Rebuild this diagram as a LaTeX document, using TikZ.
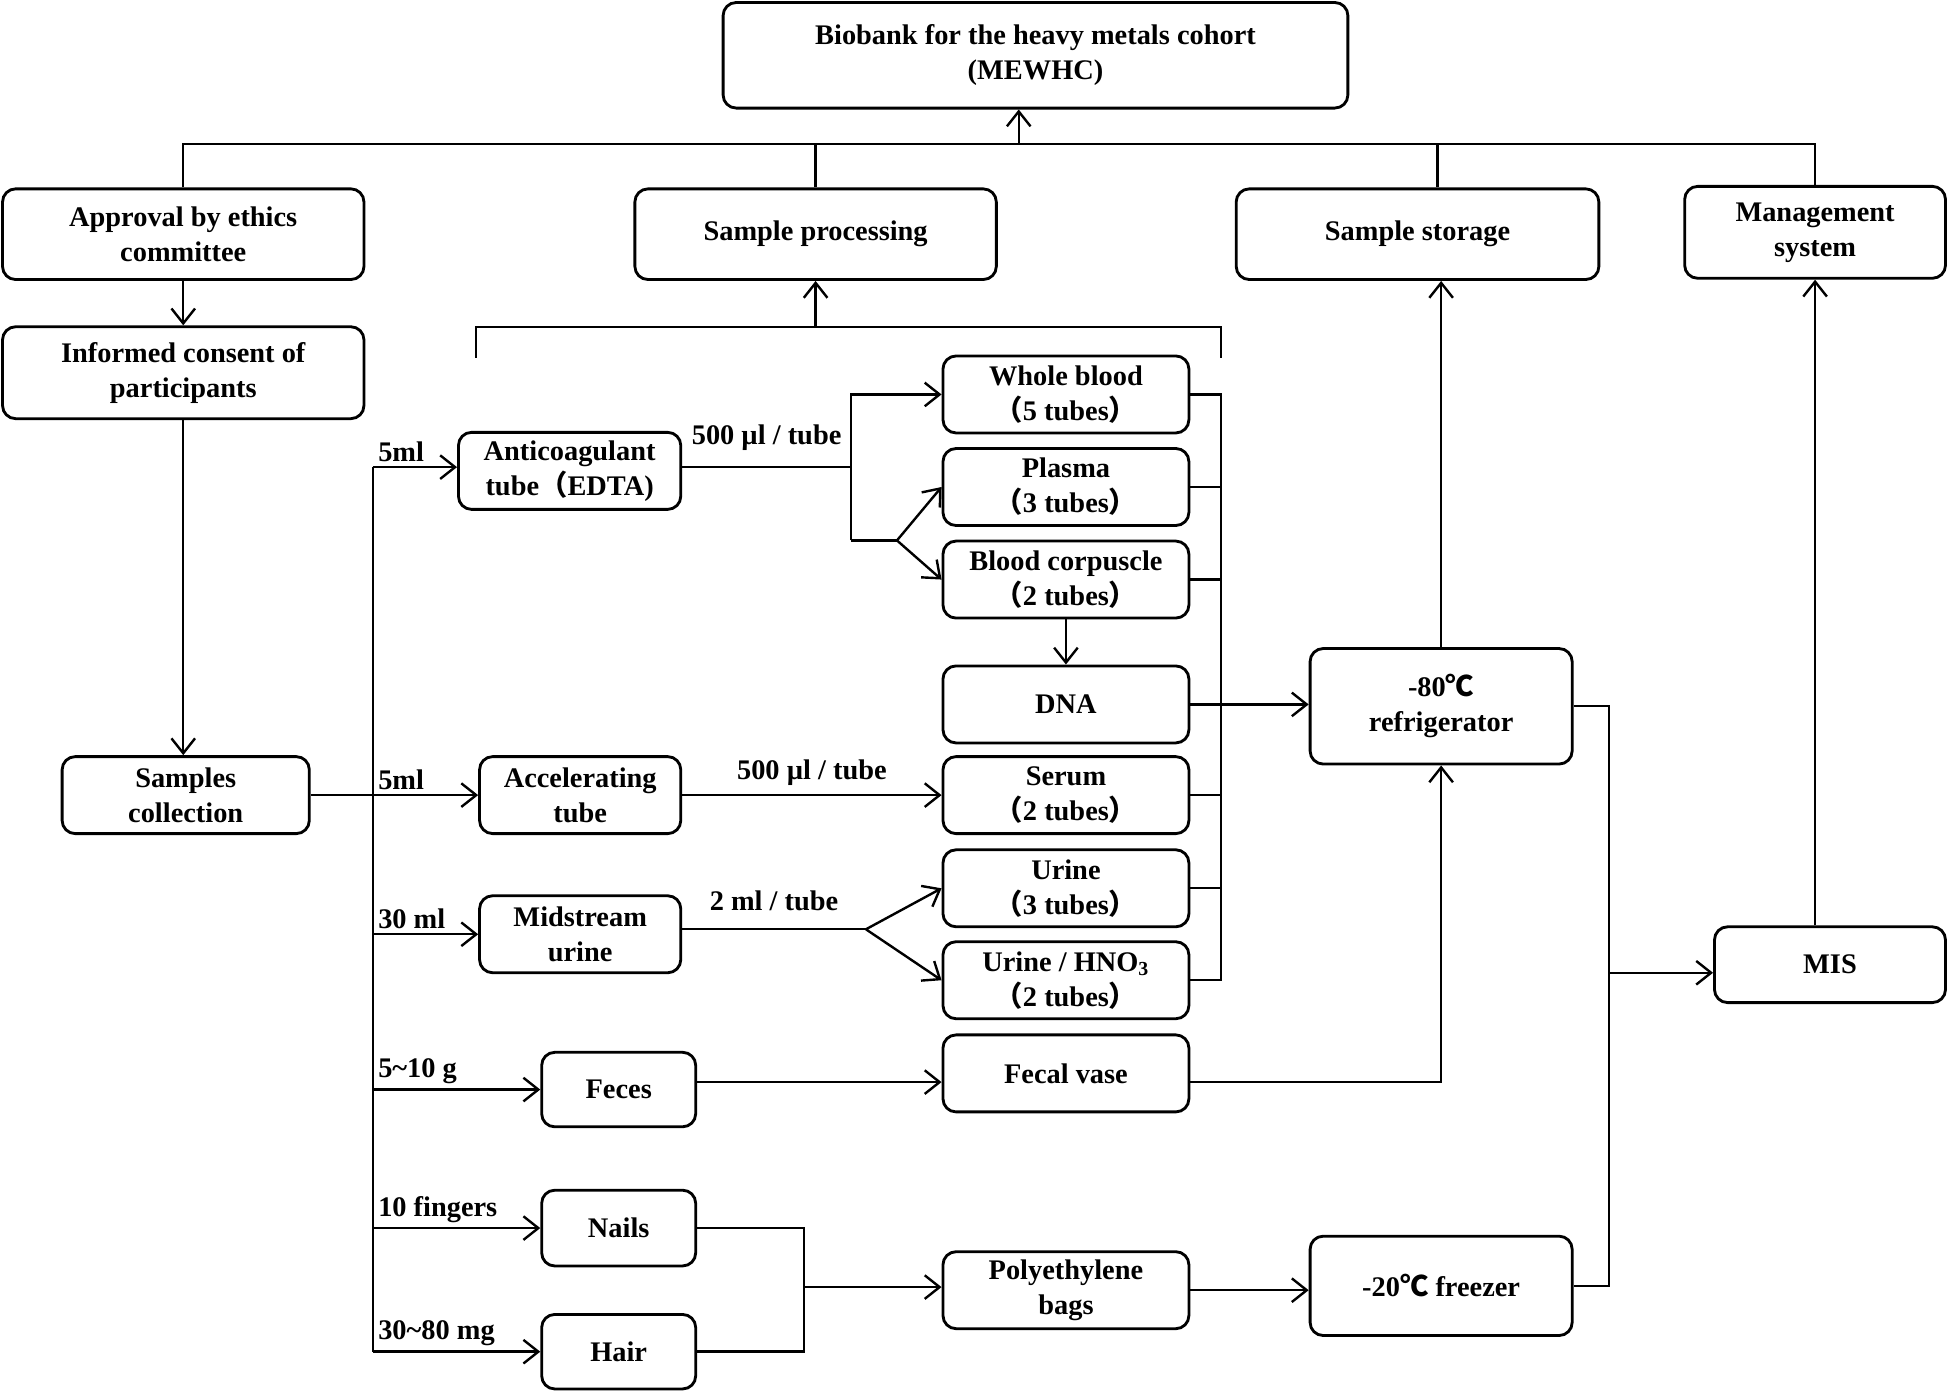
\documentclass[tikz,border=0pt]{standalone}
\usepackage{fontspec}
\setmainfont{Liberation Serif}
\newfontfamily\cjkfont{Noto Sans CJK SC}
\usetikzlibrary{arrows.meta,calc}
\definecolor{figline}{RGB}{0,0,0}
\newcommand{\degc}{{\cjkfont ℃}}
\newcommand{\lpar}{{\cjkfont （}}
\newcommand{\rpar}{{\cjkfont ）}}
\tikzset{
  bx/.style  ={draw=figline, line width=1.3pt, rounded corners=6pt, align=center,
               font=\fontsize{13}{16}\selectfont\bfseries, inner sep=2pt},
  colbx/.style={bx, minimum width=3.96cm, minimum height=1.24cm},
  ln/.style  ={draw=figline, line width=1.1pt},
  arr/.style ={ln, -{Straight Barb[length=2.4mm,width=3.8mm]}},
  lab/.style ={font=\fontsize{13}{16}\selectfont\bfseries, inner sep=2pt},
}
\begin{document}
\begin{tikzpicture}[x=0.02cm,y=-0.02cm]
  \useasboundingbox (0,0) rectangle (1568,1120);
  % top level
  \node[bx, minimum width=10.06cm, minimum height=1.7cm] (biobank) at (833.5,44.5) {Biobank for the heavy metals cohort\\(MEWHC)};
  \node[bx, minimum width=5.82cm, minimum height=1.46cm] (approval) at (147.5,188.5) {Approval by ethics\\committee};
  \node[bx, minimum width=5.82cm, minimum height=1.46cm] (proc) at (656.5,188.5) {Sample processing};
  \node[bx, minimum width=5.84cm, minimum height=1.46cm] (storage) at (1141,188.5) {Sample storage};
  \node[bx, minimum width=4.2cm, minimum height=1.48cm] (mgmt) at (1461,187) {Management\\system};
  \coordinate (bus) at (820,116);
  \draw[arr] (bus) -- (bus |- biobank.south);
  \draw[ln] (approval.north) |- (bus) -| (mgmt.north);
  \draw[ln] (proc.north) -- (proc.north |- bus);
  \draw[ln] (storage.north -| 1157,0) -- (1157,116);
  % left column
  \node[bx, minimum width=5.82cm, minimum height=1.48cm] (consent) at (147.5,300) {Informed consent of\\participants};
  \node[bx, minimum width=3.98cm, minimum height=1.24cm] (collect) at (149.5,640) {Samples\\collection};
  \draw[arr] (approval) -- (consent);
  \draw[arr] (consent.south) -- (consent.south |- collect.north);
  % first processing step
  \node[bx, minimum width=3.58cm, minimum height=1.24cm] (anti) at (458.5,379) {Anticoagulant\\tube\lpar EDTA)};
  \node[bx, minimum width=3.24cm, minimum height=1.24cm] (accel) at (467,640) {Accelerating\\tube};
  \node[bx, minimum width=3.24cm, minimum height=1.24cm] (midurine) at (467,752) {Midstream\\urine};
  \node[bx, minimum width=2.48cm, minimum height=1.2cm] (feces) at (498,877) {Feces};
  \node[bx, minimum width=2.48cm, minimum height=1.22cm] (nails) at (498,988.5) {Nails};
  \node[bx, minimum width=2.48cm, minimum height=1.2cm] (hair) at (498,1088) {Hair};
  \coordinate (trunk) at (300,376);
  \draw[ln] (collect.east) -- (collect.east -| trunk);
  \draw[ln] (trunk) -- (hair.west -| trunk);
  \draw[arr] (trunk) -- (trunk -| anti.west) node[lab, pos=0, anchor=south west] {5ml};
  \draw[arr] (accel.west -| trunk) -- (accel.west) node[lab, pos=0, anchor=south west] {5ml};
  \draw[arr] (midurine.west -| trunk) -- (midurine.west) node[lab, pos=0, anchor=south west] {30 ml};
  \draw[arr] (feces.west -| trunk) -- (feces.west) node[lab, pos=0, anchor=south west] {5\textasciitilde10 g};
  \draw[arr] (nails.west -| trunk) -- (nails.west) node[lab, pos=0, anchor=south west] {10 fingers};
  \draw[arr] (hair.west -| trunk) -- (hair.west) node[lab, pos=0, anchor=south west] {30\textasciitilde80 mg};
  % aliquots
  \node[colbx] (whole) at (858,317.5) {Whole blood\\\lpar 5 tubes\rpar};
  \node[colbx] (plasma) at (858,392) {Plasma\\\lpar 3 tubes\rpar};
  \node[colbx] (corp) at (858,466.5) {Blood corpuscle\\\lpar 2 tubes\rpar};
  \node[colbx] (dna) at (858,567) {DNA};
  \node[colbx] (serum) at (858,640) {Serum\\\lpar 2 tubes\rpar};
  \node[colbx] (urine) at (858,715) {Urine\\\lpar 3 tubes\rpar};
  \node[colbx] (urineh) at (858,789) {Urine / HNO\textsubscript{3}\\\lpar 2 tubes\rpar};
  \node[colbx] (fecal) at (858,864) {Fecal vase};
  \node[colbx] (poly) at (858,1038.5) {Polyethylene\\bags};
  % blood split
  \coordinate (sa) at (685,376);
  \coordinate (sb) at (685,435);
  \coordinate (sc) at (722,435);
  \draw[ln] (sa -| anti.east) -- (sa) node[lab, midway, above=5pt] {500 µl / tube};
  \draw[arr] (sb) -- (sa) |- (whole.west);
  \draw[ln] (sb) -- (sc);
  \draw[arr] (sc) -- (plasma.west);
  \draw[arr] (sc) -- (corp.west);
  \draw[arr] (corp) -- (dna);
  \draw[arr] (accel) -- (serum) node[lab, midway, above=2pt] {500 µl / tube};
  % urine split
  \coordinate (ua) at (697,748);
  \draw[ln] (ua -| midurine.east) -- (ua) node[lab, midway, above=6pt] {2 ml / tube};
  \draw[arr] (ua) -- (urine.west);
  \draw[arr] (ua) -- (urineh.west);
  \coordinate (fc) at (560,871);
  \draw[arr] (fc) -- (fc -| fecal.west);
  \coordinate (nh) at (647,1036);
  \draw[ln] (nails.east) -| (nh) |- (hair.east);
  \draw[arr] (nh) -- (nh -| poly.west);
  % processing bracket and collector
  \coordinate (brk) at (659,263);
  \draw[ln] (383,288) |- (brk) -| (983,288);
  \draw[arr] (brk) -- (proc.south |- brk) -- (proc.south);
  \coordinate (col) at (983,317.5);
  \draw[ln] (whole.east) -- (col) -- (urineh.east -| col) -- (urineh.east);
  \draw[ln] (plasma.east) -- (plasma.east -| col);
  \draw[ln] (corp.east) -- (corp.east -| col);
  \draw[ln] (serum.east) -- (serum.east -| col);
  \draw[ln] (urine.east) -- (urine.east -| col);
  % storage
  \node[bx, minimum width=4.22cm, minimum height=1.86cm] (fridge) at (1160,568.5) {-80\degc\\refrigerator};
  \node[bx, minimum width=4.22cm, minimum height=1.6cm] (freezer) at (1160,1035) {-20\degc\ freezer};
  \node[bx, minimum width=3.72cm, minimum height=1.22cm] (mis) at (1473,776.5) {MIS};
  \draw[arr] (dna.east) -- (dna.east -| fridge.west);
  \draw[arr] (fc -| fecal.east) -| (fridge.south);
  \draw[arr] (poly.east) -- (poly.east -| freezer.west);
  \draw[arr] (fridge.north) -- (fridge.north |- storage.south);
  \coordinate (fm) at (1295,783);
  \draw[ln] (fridge.east) -| (fm) |- (freezer.east);
  \draw[arr] (fm) -- (fm -| mis.west);
  \draw[arr] (mis.north -| mgmt.south) -- (mgmt.south);
\end{tikzpicture}
\end{document}
